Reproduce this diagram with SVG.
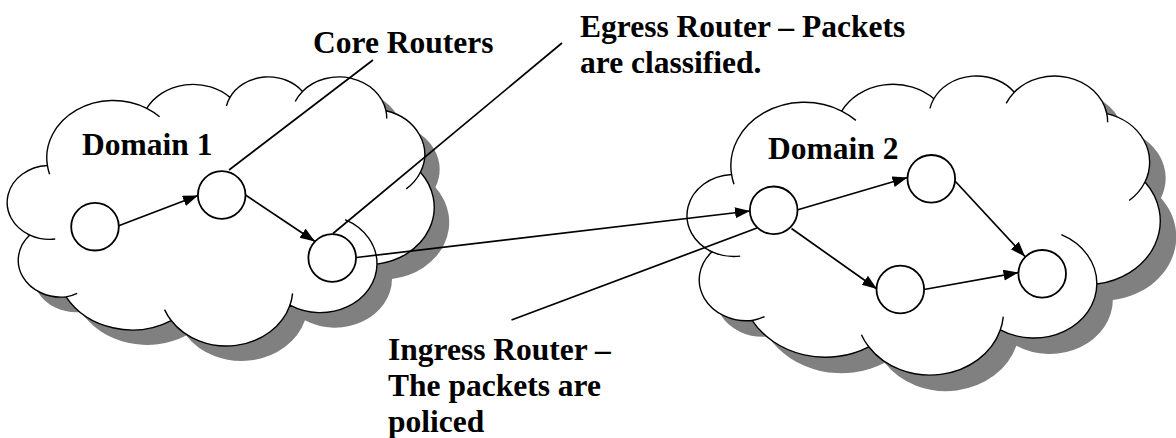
<svg xmlns="http://www.w3.org/2000/svg" xmlns:xlink="http://www.w3.org/1999/xlink" width="1176" height="438" viewBox="0 0 1176 438">
<style>
.shadow{fill:#808080;stroke:none}
.cloud{fill:#ffffff;stroke:#000000;stroke-width:1.4}
.inner{fill:none;stroke:#000000;stroke-width:1.4}
.node{fill:#ffffff;stroke:#000000;stroke-width:1.8}
.edge{fill:none;stroke:#000000;stroke-width:1.7}
.lead{fill:none;stroke:#000000;stroke-width:1.7}
.lbl{font-family:"Liberation Serif","Times New Roman",serif;font-weight:bold;font-size:31.5px;fill:#000000}
</style>
<defs>
<path id="cloudPath" d="M 3900 14370 A 6753 9190 0 0 1 14005.6 5202.7 A 5333 7267 0 0 1 22457.8 3433.7 A 4365 5945 0 0 1 29834.3 2479.9 A 4857 6595 0 0 1 38319.3 5575.4 A 5333 7273 0 0 1 41819.7 15459.1 A 6775 9220 0 0 1 37406.8 30204.1 A 5785 7867 0 0 1 28558.1 36814.2 A 6752 9215 0 0 1 16484.3 39269.8 A 7720 10543 0 0 1 5806.9 35474 A 4360 5918 0 0 1 2116.8 25550.6 A 4345 5945 0 0 1 3900 14370 Z"/>
<path id="cloudInner" d="M 4693 26177 A 4345 5945 0 0 1 2116.8 25550.6 M 6928 34899 A 4360 5918 0 0 1 5806.9 35474 M 16484.3 39269.8 A 6752 9215 0 0 1 15814.1 37524.5 M 28824.6 34905.6 A 6752 9215 0 0 1 28558.1 36814.2 M 34155.2 23068.5 A 5785 7867 0 0 1 37406.8 30204.1 M 41819.7 15459.1 A 5333 7273 0 0 1 40370.3 18136.8 M 38319.3 5575.4 A 4857 6595 0 0 1 38395.7 6839.1 M 29091.8 4093.7 A 4857 6595 0 0 1 29834.3 2479.9 M 22098.9 4822.8 A 4365 5945 0 0 1 22457.8 3433.7 M 14005.6 5202.7 A 6753 9190 0 0 1 15305.7 6551.6 M 4127 15789 A 6753 9190 0 0 1 3900 14370"/>
<marker id="arrow" markerUnits="userSpaceOnUse" markerWidth="16" markerHeight="12" refX="15" refY="5.5" orient="auto">
<path d="M0,0 L15,5.5 L0,11 Z" fill="#000000"/>
</marker>
</defs>

<g id="domain1">
<g transform="translate(24,91) scale(0.0098380,0.0062269)"><use xlink:href="#cloudPath" class="shadow"/></g>
<g transform="translate(9,76) scale(0.0098380,0.0062269)">
<path class="cloud" vector-effect="non-scaling-stroke" d="M 3900 14370 A 6753 9190 0 0 1 14005.6 5202.7 A 5333 7267 0 0 1 22457.8 3433.7 A 4365 5945 0 0 1 29834.3 2479.9 A 4857 6595 0 0 1 38319.3 5575.4 A 5333 7273 0 0 1 41819.7 15459.1 A 6775 9220 0 0 1 37406.8 30204.1 A 5785 7867 0 0 1 28558.1 36814.2 A 6752 9215 0 0 1 16484.3 39269.8 A 7720 10543 0 0 1 5806.9 35474 A 4360 5918 0 0 1 2116.8 25550.6 A 4345 5945 0 0 1 3900 14370 Z"/>
<path class="inner" vector-effect="non-scaling-stroke" d="M 4693 26177 A 4345 5945 0 0 1 2116.8 25550.6 M 6928 34899 A 4360 5918 0 0 1 5806.9 35474 M 16484.3 39269.8 A 6752 9215 0 0 1 15814.1 37524.5 M 28824.6 34905.6 A 6752 9215 0 0 1 28558.1 36814.2 M 34155.2 23068.5 A 5785 7867 0 0 1 37406.8 30204.1 M 41819.7 15459.1 A 5333 7273 0 0 1 40370.3 18136.8 M 38319.3 5575.4 A 4857 6595 0 0 1 38395.7 6839.1 M 29091.8 4093.7 A 4857 6595 0 0 1 29834.3 2479.9 M 22098.9 4822.8 A 4365 5945 0 0 1 22457.8 3433.7 M 14005.6 5202.7 A 6753 9190 0 0 1 15305.7 6551.6 M 4127 15789 A 6753 9190 0 0 1 3900 14370"/>
</g>
<text class="lbl" x="82" y="155">Domain 1</text>
</g>

<g id="domain2">
<g transform="translate(705,91) scale(0.0109028,0.0069213)"><use xlink:href="#cloudPath" class="shadow"/></g>
<g transform="translate(689,75) scale(0.0109028,0.0069213)">
<path class="cloud" vector-effect="non-scaling-stroke" d="M 3900 14370 A 6753 9190 0 0 1 14005.6 5202.7 A 5333 7267 0 0 1 22457.8 3433.7 A 4365 5945 0 0 1 29834.3 2479.9 A 4857 6595 0 0 1 38319.3 5575.4 A 5333 7273 0 0 1 41819.7 15459.1 A 6775 9220 0 0 1 37406.8 30204.1 A 5785 7867 0 0 1 28558.1 36814.2 A 6752 9215 0 0 1 16484.3 39269.8 A 7720 10543 0 0 1 5806.9 35474 A 4360 5918 0 0 1 2116.8 25550.6 A 4345 5945 0 0 1 3900 14370 Z"/>
<path class="inner" vector-effect="non-scaling-stroke" d="M 4693 26177 A 4345 5945 0 0 1 2116.8 25550.6 M 6928 34899 A 4360 5918 0 0 1 5806.9 35474 M 16484.3 39269.8 A 6752 9215 0 0 1 15814.1 37524.5 M 28824.6 34905.6 A 6752 9215 0 0 1 28558.1 36814.2 M 34155.2 23068.5 A 5785 7867 0 0 1 37406.8 30204.1 M 41819.7 15459.1 A 5333 7273 0 0 1 40370.3 18136.8 M 38319.3 5575.4 A 4857 6595 0 0 1 38395.7 6839.1 M 29091.8 4093.7 A 4857 6595 0 0 1 29834.3 2479.9 M 22098.9 4822.8 A 4365 5945 0 0 1 22457.8 3433.7 M 14005.6 5202.7 A 6753 9190 0 0 1 15305.7 6551.6 M 4127 15789 A 6753 9190 0 0 1 3900 14370"/>
</g>
<text class="lbl" x="768" y="159">Domain 2</text>
</g>

<g id="connectors">
<line class="edge" x1="118" y1="226" x2="198" y2="195.5" marker-end="url(#arrow)"/>
<line class="edge" x1="245.5" y1="195" x2="315" y2="241.5" marker-end="url(#arrow)"/>
<line class="edge" x1="356.5" y1="257.5" x2="750" y2="211" marker-end="url(#arrow)"/>
<line class="edge" x1="797" y1="210" x2="907.5" y2="177.5" marker-end="url(#arrow)"/>
<line class="edge" x1="791.5" y1="228.5" x2="877" y2="289" marker-end="url(#arrow)"/>
<line class="edge" x1="955" y1="181" x2="1025" y2="256.5" marker-end="url(#arrow)"/>
<line class="edge" x1="924" y1="289.5" x2="1018.5" y2="272.5" marker-end="url(#arrow)"/>
<line class="lead" x1="229" y1="170" x2="373" y2="60"/>
<line class="lead" x1="333" y1="233.5" x2="562" y2="43"/>
<line class="lead" x1="757" y1="228" x2="511.5" y2="320"/>
</g>

<g id="n1"><circle class="node" cx="95" cy="226.7" r="23.8"/></g>
<g id="n2"><circle class="node" cx="221.7" cy="195" r="23.8"/></g>
<g id="n3"><circle class="node" cx="332.2" cy="258" r="23.8"/></g>
<g id="m1"><circle class="node" cx="773.7" cy="210.3" r="23.8"/></g>
<g id="m2"><circle class="node" cx="931.3" cy="178.8" r="23.8"/></g>
<g id="m3"><circle class="node" cx="900.3" cy="289.5" r="23.8"/></g>
<g id="m4"><circle class="node" cx="1042.2" cy="273.8" r="23.8"/></g>

<g id="label-core"><text class="lbl" x="313" y="53">Core Routers</text></g>
<g id="label-egress">
<text class="lbl" x="580" y="37">Egress Router – Packets</text>
<text class="lbl" x="580" y="73">are classified.</text>
</g>
<g id="label-ingress">
<text class="lbl" x="388" y="360">Ingress Router –</text>
<text class="lbl" x="388" y="396">The packets are</text>
<text class="lbl" x="388" y="432">policed</text>
</g>
</svg>
